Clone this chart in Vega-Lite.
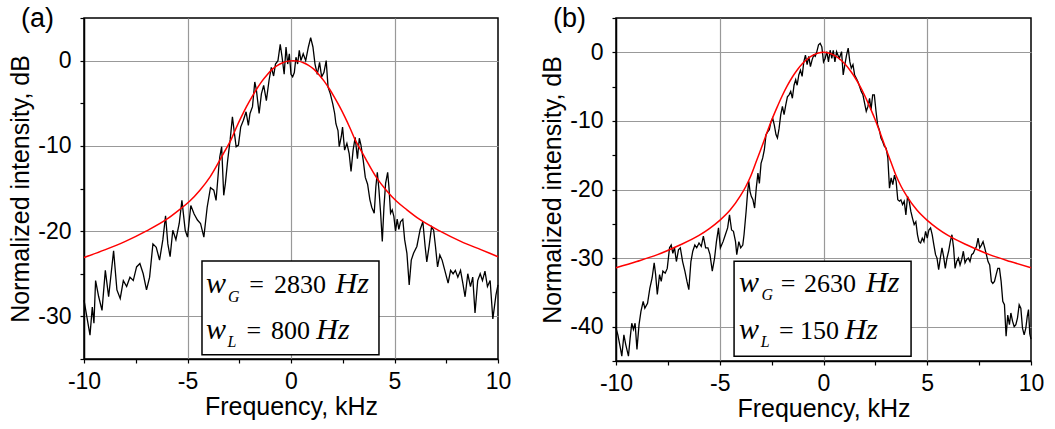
{
  "$schema": "https://vega.github.io/schema/vega-lite/v6.json",
  "background": "white",
  "padding": {"left": 8, "top": 4, "right": 5, "bottom": 5},
  "bounds": "flush",
  "spacing": 118,
  "config": {
    "view": {"stroke": "black", "strokeWidth": 1.5},
    "axis": {
      "domainColor": "black", "domainWidth": 1.5,
      "tickColor": "black", "tickWidth": 1.2, "tickSize": 4,
      "labelFont": "Liberation Sans", "labelFontSize": 23, "labelColor": "black",
      "titleFont": "Liberation Sans", "titleFontSize": 25, "titleFontWeight": "normal", "titleColor": "black",
      "gridColor": "#999999", "gridWidth": 1.2,
      "labelFlush": false, "labelOverlap": false
    },
    "axisX": {"labelPadding": 7, "titlePadding": 1},
    "axisY": {"labelPadding": 9, "titlePadding": 4}
  },
  "datasets": {
    "a_sig": [
      {"f":-10,"v":-28.1},{"f":-9.71,"v":-32.2},{"f":-9.6,"v":-28.9},{"f":-9.52,"v":-30.8},{"f":-9.44,"v":-25.8},{"f":-9.29,"v":-27.7},{"f":-9.13,"v":-29.3},{"f":-8.97,"v":-24.6},{"f":-8.81,"v":-27.7},{"f":-8.57,"v":-22.3},{"f":-8.41,"v":-26.9},{"f":-8.25,"v":-27.9},{"f":-8.1,"v":-25.8},{"f":-7.94,"v":-26.5},{"f":-7.78,"v":-25.4},{"f":-7.62,"v":-25.8},{"f":-7.46,"v":-24.2},{"f":-7.3,"v":-23.8},{"f":-7.14,"v":-25.0},{"f":-6.98,"v":-26.9},{"f":-6.83,"v":-25.4},{"f":-6.67,"v":-21.5},{"f":-6.51,"v":-21.9},{"f":-6.35,"v":-23.4},{"f":-6.19,"v":-21.0},{"f":-6.06,"v":-18.2},{"f":-5.95,"v":-21.5},{"f":-5.84,"v":-23.0},{"f":-5.71,"v":-19.9},{"f":-5.56,"v":-21.0},{"f":-5.4,"v":-19.1},{"f":-5.27,"v":-16.4},{"f":-5.11,"v":-19.9},{"f":-5.0,"v":-20.7},{"f":-4.84,"v":-17.0},{"f":-4.68,"v":-18.0},{"f":-4.52,"v":-18.7},{"f":-4.37,"v":-19.1},{"f":-4.21,"v":-20.7},{"f":-4.05,"v":-17.2},{"f":-3.89,"v":-14.9},{"f":-3.73,"v":-15.2},{"f":-3.62,"v":-16.4},{"f":-3.49,"v":-12.5},{"f":-3.44,"v":-11.3},{"f":-3.35,"v":-10.1},{"f":-3.25,"v":-15.8},{"f":-3.17,"v":-14.4},{"f":-3.06,"v":-11.7},{"f":-2.94,"v":-9.3},{"f":-2.83,"v":-6.6},{"f":-2.75,"v":-8.2},{"f":-2.65,"v":-10.1},{"f":-2.54,"v":-9.9},{"f":-2.43,"v":-7.8},{"f":-2.3,"v":-7.0},{"f":-2.17,"v":-6.0},{"f":-2.06,"v":-7.6},{"f":-1.98,"v":-6.2},{"f":-1.86,"v":-5.4},{"f":-1.75,"v":-2.5},{"f":-1.67,"v":-3.5},{"f":-1.54,"v":-6.2},{"f":-1.43,"v":-3.9},{"f":-1.32,"v":-2.9},{"f":-1.19,"v":-4.7},{"f":-1.06,"v":-2.3},{"f":-0.95,"v":-0.8},{"f":-0.84,"v":-1.8},{"f":-0.75,"v":-0.4},{"f":-0.63,"v":0.0},{"f":-0.52,"v":1.9},{"f":-0.43,"v":0.4},{"f":-0.33,"v":-1.6},{"f":-0.24,"v":1.6},{"f":-0.16,"v":-0.4},{"f":-0.08,"v":0.8},{"f":0,"v":-1.6},{"f":0.08,"v":-1.9},{"f":0.16,"v":-1.4},{"f":0.24,"v":0.4},{"f":0.32,"v":-0.4},{"f":0.4,"v":1.2},{"f":0.48,"v":0.0},{"f":0.59,"v":0.8},{"f":0.71,"v":0.0},{"f":0.84,"v":1.6},{"f":0.95,"v":2.7},{"f":1.06,"v":1.6},{"f":1.16,"v":-0.4},{"f":1.27,"v":-1.6},{"f":1.38,"v":-0.2},{"f":1.48,"v":-1.9},{"f":1.59,"v":-1.4},{"f":1.7,"v":0.0},{"f":1.79,"v":-3.1},{"f":1.9,"v":-3.9},{"f":2.02,"v":-5.1},{"f":2.11,"v":-6.2},{"f":2.17,"v":-7.4},{"f":2.27,"v":-8.2},{"f":2.33,"v":-10.1},{"f":2.43,"v":-8.9},{"f":2.49,"v":-7.8},{"f":2.59,"v":-10.5},{"f":2.7,"v":-9.7},{"f":2.81,"v":-10.9},{"f":2.9,"v":-13.0},{"f":3.0,"v":-10.5},{"f":3.1,"v":-9.0},{"f":3.21,"v":-11.5},{"f":3.3,"v":-9.1},{"f":3.38,"v":-9.9},{"f":3.49,"v":-11.7},{"f":3.59,"v":-13.7},{"f":3.7,"v":-14.5},{"f":3.81,"v":-16.3},{"f":3.9,"v":-17.2},{"f":4.02,"v":-17.9},{"f":4.1,"v":-14.8},{"f":4.17,"v":-13.1},{"f":4.25,"v":-15.2},{"f":4.33,"v":-17.9},{"f":4.41,"v":-21.2},{"f":4.49,"v":-17.2},{"f":4.57,"v":-14.4},{"f":4.67,"v":-13.1},{"f":4.73,"v":-14.8},{"f":4.81,"v":-17.9},{"f":4.89,"v":-17.5},{"f":4.97,"v":-18.3},{"f":5.05,"v":-20.0},{"f":5.13,"v":-18.6},{"f":5.21,"v":-19.8},{"f":5.29,"v":-18.9},{"f":5.4,"v":-18.6},{"f":5.49,"v":-21.0},{"f":5.6,"v":-22.6},{"f":5.71,"v":-26.3},{"f":5.81,"v":-23.4},{"f":5.92,"v":-22.6},{"f":6.08,"v":-21.8},{"f":6.24,"v":-19.8},{"f":6.37,"v":-18.9},{"f":6.48,"v":-21.8},{"f":6.56,"v":-23.6},{"f":6.67,"v":-21.8},{"f":6.79,"v":-19.5},{"f":6.89,"v":-19.9},{"f":6.98,"v":-21.8},{"f":7.08,"v":-24.2},{"f":7.19,"v":-22.8},{"f":7.3,"v":-23.4},{"f":7.43,"v":-24.6},{"f":7.59,"v":-26.1},{"f":7.71,"v":-24.6},{"f":7.83,"v":-25.0},{"f":7.94,"v":-24.6},{"f":8.06,"v":-25.4},{"f":8.19,"v":-24.6},{"f":8.3,"v":-26.1},{"f":8.41,"v":-27.7},{"f":8.54,"v":-25.0},{"f":8.67,"v":-26.5},{"f":8.78,"v":-25.4},{"f":8.89,"v":-29.6},{"f":9.02,"v":-25.8},{"f":9.14,"v":-25.0},{"f":9.25,"v":-25.8},{"f":9.37,"v":-24.7},{"f":9.49,"v":-26.5},{"f":9.62,"v":-25.8},{"f":9.75,"v":-30.3},{"f":9.82,"v":-29.0},{"f":9.9,"v":-27.5},{"f":10,"v":-26.3}
    ],
    "a_fit": [
      {"f":-10,"v":-23.1},{"f":-9,"v":-22.2},{"f":-8,"v":-21.2},{"f":-7,"v":-20.0},{"f":-6,"v":-18.6},{"f":-5.4,"v":-17.5},{"f":-4.9,"v":-16.5},{"f":-4.4,"v":-15.2},{"f":-3.9,"v":-13.6},{"f":-3.4,"v":-11.5},{"f":-3.15,"v":-10.4},{"f":-2.9,"v":-9.3},{"f":-2.65,"v":-7.9},{"f":-2.4,"v":-6.6},{"f":-2.15,"v":-5.4},{"f":-1.9,"v":-4.3},{"f":-1.65,"v":-3.3},{"f":-1.4,"v":-2.4},{"f":-1.15,"v":-1.65},{"f":-0.9,"v":-1.0},{"f":-0.65,"v":-0.55},{"f":-0.4,"v":-0.25},{"f":-0.15,"v":-0.06},{"f":0.1,"v":0},{"f":0.35,"v":-0.06},{"f":0.6,"v":-0.25},{"f":0.85,"v":-0.55},{"f":1.1,"v":-1.0},{"f":1.35,"v":-1.65},{"f":1.6,"v":-2.4},{"f":1.85,"v":-3.3},{"f":2.1,"v":-4.3},{"f":2.35,"v":-5.4},{"f":2.6,"v":-6.6},{"f":2.85,"v":-7.9},{"f":3.1,"v":-9.3},{"f":3.35,"v":-10.4},{"f":3.6,"v":-11.5},{"f":4.1,"v":-13.6},{"f":4.6,"v":-15.2},{"f":5.1,"v":-16.5},{"f":5.6,"v":-17.5},{"f":6.2,"v":-18.6},{"f":7.2,"v":-20.0},{"f":8.2,"v":-21.2},{"f":9.2,"v":-22.2},{"f":10,"v":-23.0}
    ],
    "a_box": [{"f": -4.30, "f2": 4.25, "v": -23.5, "v2": -34.5}],
    "a_lab": [{"f": -13.04, "v": 3.94, "t": "(a)"}],
    "a_txt": [
      {"f":-4.11,"v":-27.25,"t":"w","k":"symbol"},
      {"f":-3.04,"v":-28.29,"t":"G","k":"index"},
      {"f":-2.02,"v":-27.25,"t":"=","k":"value"},
      {"f":-0.82,"v":-27.25,"t":"2830","k":"value"},
      {"f":2.15,"v":-27.25,"t":"Hz","k":"symbol"},
      {"f":-4.11,"v":-32.7,"t":"w","k":"symbol"},
      {"f":-3.07,"v":-33.56,"t":"L","k":"index"},
      {"f":-2.15,"v":-32.7,"t":"=","k":"value"},
      {"f":-0.97,"v":-32.7,"t":"800","k":"value"},
      {"f":1.22,"v":-32.7,"t":"Hz","k":"symbol"}
    ],
    "b_sig": [
      {"f":-10,"v":-40.2},{"f":-9.91,"v":-41.2},{"f":-9.79,"v":-43.1},{"f":-9.72,"v":-44.3},{"f":-9.62,"v":-41.2},{"f":-9.53,"v":-42.6},{"f":-9.4,"v":-44.3},{"f":-9.32,"v":-41.7},{"f":-9.24,"v":-39.5},{"f":-9.16,"v":-40.4},{"f":-9.08,"v":-39.5},{"f":-8.99,"v":-43.3},{"f":-8.89,"v":-39.7},{"f":-8.8,"v":-37.8},{"f":-8.69,"v":-36.3},{"f":-8.61,"v":-37.3},{"f":-8.48,"v":-36.6},{"f":-8.37,"v":-34.4},{"f":-8.26,"v":-32.9},{"f":-8.16,"v":-30.7},{"f":-8.09,"v":-32.4},{"f":-8.01,"v":-35.3},{"f":-7.9,"v":-32.4},{"f":-7.82,"v":-33.4},{"f":-7.74,"v":-31.9},{"f":-7.63,"v":-32.2},{"f":-7.53,"v":-31.5},{"f":-7.42,"v":-28.5},{"f":-7.34,"v":-28.1},{"f":-7.26,"v":-29.3},{"f":-7.18,"v":-28.5},{"f":-7.09,"v":-30.5},{"f":-6.99,"v":-28.8},{"f":-6.9,"v":-28.5},{"f":-6.79,"v":-30.5},{"f":-6.68,"v":-31.9},{"f":-6.58,"v":-33.4},{"f":-6.49,"v":-34.6},{"f":-6.39,"v":-30.5},{"f":-6.3,"v":-29.0},{"f":-6.2,"v":-28.1},{"f":-6.11,"v":-28.5},{"f":-6.0,"v":-27.8},{"f":-5.89,"v":-28.3},{"f":-5.79,"v":-26.8},{"f":-5.68,"v":-28.5},{"f":-5.57,"v":-28.5},{"f":-5.47,"v":-29.5},{"f":-5.36,"v":-31.9},{"f":-5.25,"v":-30.0},{"f":-5.16,"v":-27.6},{"f":-5.06,"v":-25.6},{"f":-4.97,"v":-28.5},{"f":-4.84,"v":-27.6},{"f":-4.73,"v":-26.6},{"f":-4.62,"v":-25.6},{"f":-4.53,"v":-23.7},{"f":-4.43,"v":-25.9},{"f":-4.34,"v":-26.1},{"f":-4.24,"v":-27.6},{"f":-4.18,"v":-29.5},{"f":-4.08,"v":-27.6},{"f":-3.99,"v":-28.5},{"f":-3.89,"v":-28.1},{"f":-3.83,"v":-26.6},{"f":-3.73,"v":-23.2},{"f":-3.66,"v":-20.5},{"f":-3.6,"v":-18.8},{"f":-3.54,"v":-20.3},{"f":-3.48,"v":-21.0},{"f":-3.4,"v":-21.5},{"f":-3.32,"v":-22.7},{"f":-3.24,"v":-19.8},{"f":-3.16,"v":-17.6},{"f":-3.09,"v":-19.1},{"f":-3.01,"v":-16.2},{"f":-2.93,"v":-15.4},{"f":-2.85,"v":-14.2},{"f":-2.77,"v":-12.0},{"f":-2.69,"v":-11.6},{"f":-2.61,"v":-11.3},{"f":-2.53,"v":-10.1},{"f":-2.45,"v":-9.6},{"f":-2.37,"v":-10.6},{"f":-2.29,"v":-12.0},{"f":-2.22,"v":-12.5},{"f":-2.14,"v":-11.1},{"f":-2.06,"v":-9.1},{"f":-1.98,"v":-7.9},{"f":-1.9,"v":-9.1},{"f":-1.82,"v":-7.7},{"f":-1.74,"v":-6.5},{"f":-1.66,"v":-6.2},{"f":-1.58,"v":-5.7},{"f":-1.5,"v":-6.7},{"f":-1.42,"v":-4.8},{"f":-1.34,"v":-4.0},{"f":-1.27,"v":-4.8},{"f":-1.19,"v":-3.3},{"f":-1.11,"v":-2.6},{"f":-1.03,"v":-3.5},{"f":-0.95,"v":-1.4},{"f":-0.87,"v":-0.4},{"f":-0.79,"v":-1.8},{"f":-0.71,"v":-0.6},{"f":-0.63,"v":-2.1},{"f":-0.55,"v":-1.1},{"f":-0.47,"v":-0.4},{"f":-0.4,"v":-0.6},{"f":-0.32,"v":0.1},{"f":-0.24,"v":1.1},{"f":-0.16,"v":1.3},{"f":-0.08,"v":0.8},{"f":0,"v":-1.4},{"f":0.08,"v":-0.9},{"f":0.16,"v":0.1},{"f":0.24,"v":-1.4},{"f":0.32,"v":0.3},{"f":0.4,"v":-0.9},{"f":0.47,"v":0.3},{"f":0.55,"v":-1.4},{"f":0.63,"v":0.1},{"f":0.76,"v":-0.9},{"f":0.87,"v":0.1},{"f":0.95,"v":-3.3},{"f":1.03,"v":-1.8},{"f":1.11,"v":-0.4},{"f":1.19,"v":0.6},{"f":1.27,"v":-1.4},{"f":1.34,"v":-2.3},{"f":1.42,"v":-1.8},{"f":1.5,"v":-3.3},{"f":1.58,"v":-3.8},{"f":1.66,"v":-4.3},{"f":1.74,"v":-5.0},{"f":1.82,"v":-5.7},{"f":1.9,"v":-6.2},{"f":1.98,"v":-7.4},{"f":2.06,"v":-8.6},{"f":2.14,"v":-7.9},{"f":2.22,"v":-6.7},{"f":2.29,"v":-8.4},{"f":2.37,"v":-6.2},{"f":2.45,"v":-6.2},{"f":2.53,"v":-8.6},{"f":2.61,"v":-10.6},{"f":2.69,"v":-11.3},{"f":2.77,"v":-12.5},{"f":2.85,"v":-13.0},{"f":2.93,"v":-13.7},{"f":3.02,"v":-14.0},{"f":3.1,"v":-15.4},{"f":3.18,"v":-19.8},{"f":3.26,"v":-18.3},{"f":3.34,"v":-19.3},{"f":3.42,"v":-17.9},{"f":3.5,"v":-18.8},{"f":3.58,"v":-21.5},{"f":3.66,"v":-21.7},{"f":3.73,"v":-21.5},{"f":3.81,"v":-22.2},{"f":3.89,"v":-21.7},{"f":3.97,"v":-23.7},{"f":4.05,"v":-21.0},{"f":4.13,"v":-21.7},{"f":4.21,"v":-23.2},{"f":4.29,"v":-24.2},{"f":4.37,"v":-25.1},{"f":4.45,"v":-24.7},{"f":4.53,"v":-26.6},{"f":4.6,"v":-27.6},{"f":4.68,"v":-27.8},{"f":4.76,"v":-27.1},{"f":4.84,"v":-27.6},{"f":4.92,"v":-26.1},{"f":5.0,"v":-27.1},{"f":5.08,"v":-25.9},{"f":5.16,"v":-25.6},{"f":5.24,"v":-26.6},{"f":5.32,"v":-28.1},{"f":5.4,"v":-29.5},{"f":5.47,"v":-30.0},{"f":5.55,"v":-31.7},{"f":5.63,"v":-30.0},{"f":5.71,"v":-28.5},{"f":5.79,"v":-29.8},{"f":5.87,"v":-31.5},{"f":5.95,"v":-30.0},{"f":6.03,"v":-29.0},{"f":6.11,"v":-27.6},{"f":6.19,"v":-26.6},{"f":6.27,"v":-28.5},{"f":6.34,"v":-31.5},{"f":6.42,"v":-30.5},{"f":6.5,"v":-30.0},{"f":6.58,"v":-31.0},{"f":6.66,"v":-30.2},{"f":6.74,"v":-29.0},{"f":6.82,"v":-30.7},{"f":6.9,"v":-30.2},{"f":6.98,"v":-30.0},{"f":7.06,"v":-30.5},{"f":7.14,"v":-29.5},{"f":7.22,"v":-29.3},{"f":7.29,"v":-28.8},{"f":7.37,"v":-28.3},{"f":7.45,"v":-27.1},{"f":7.53,"v":-28.5},{"f":7.61,"v":-28.1},{"f":7.69,"v":-27.6},{"f":7.77,"v":-28.5},{"f":7.85,"v":-29.5},{"f":7.93,"v":-30.5},{"f":8.01,"v":-31.0},{"f":8.09,"v":-33.4},{"f":8.16,"v":-33.7},{"f":8.24,"v":-33.4},{"f":8.32,"v":-32.4},{"f":8.4,"v":-31.5},{"f":8.48,"v":-31.5},{"f":8.56,"v":-33.4},{"f":8.64,"v":-36.3},{"f":8.72,"v":-36.8},{"f":8.8,"v":-41.4},{"f":8.88,"v":-38.3},{"f":8.96,"v":-39.7},{"f":9.03,"v":-38.0},{"f":9.11,"v":-39.2},{"f":9.19,"v":-40.0},{"f":9.27,"v":-39.7},{"f":9.35,"v":-38.7},{"f":9.43,"v":-36.8},{"f":9.51,"v":-37.3},{"f":9.59,"v":-40.2},{"f":9.67,"v":-41.2},{"f":9.75,"v":-40.2},{"f":9.82,"v":-38.5},{"f":9.88,"v":-37.5},{"f":9.94,"v":-41.0},{"f":10,"v":-41.8}
    ],
    "b_fit": [
      {"f":-10,"v":-31.4},{"f":-9,"v":-30.5},{"f":-8,"v":-29.5},{"f":-7,"v":-28.2},{"f":-6,"v":-26.7},{"f":-5.5,"v":-25.7},{"f":-5,"v":-24.5},{"f":-4.5,"v":-23.0},{"f":-4,"v":-20.9},{"f":-3.75,"v":-19.6},{"f":-3.5,"v":-18.0},{"f":-3.25,"v":-16.0},{"f":-3,"v":-14.0},{"f":-2.75,"v":-11.9},{"f":-2.5,"v":-9.9},{"f":-2.25,"v":-8.1},{"f":-2,"v":-6.4},{"f":-1.75,"v":-4.9},{"f":-1.5,"v":-3.6},{"f":-1.25,"v":-2.5},{"f":-1,"v":-1.6},{"f":-0.75,"v":-0.9},{"f":-0.5,"v":-0.4},{"f":-0.25,"v":-0.1},{"f":0,"v":0},{"f":0.25,"v":-0.1},{"f":0.5,"v":-0.4},{"f":0.75,"v":-0.9},{"f":1,"v":-1.6},{"f":1.25,"v":-2.5},{"f":1.5,"v":-3.6},{"f":1.75,"v":-4.9},{"f":2,"v":-6.4},{"f":2.25,"v":-8.1},{"f":2.5,"v":-9.9},{"f":2.75,"v":-11.9},{"f":3,"v":-14.0},{"f":3.25,"v":-16.0},{"f":3.5,"v":-18.0},{"f":3.75,"v":-19.6},{"f":4,"v":-20.9},{"f":4.5,"v":-23.0},{"f":5,"v":-24.5},{"f":5.5,"v":-25.7},{"f":6,"v":-26.7},{"f":7,"v":-28.2},{"f":8,"v":-29.5},{"f":9,"v":-30.5},{"f":10,"v":-31.4}
    ],
    "b_box": [{"f": -4.31, "f2": 4.22, "v": -30.46, "v2": -44.32}],
    "b_lab": [{"f": -13.04, "v": 3.69, "t": "(b)"}],
    "b_txt": [
      {"f":-4.07,"v":-35.0,"t":"w","k":"symbol"},
      {"f":-2.99,"v":-36.12,"t":"G","k":"index"},
      {"f":-2.06,"v":-35.0,"t":"=","k":"value"},
      {"f":-0.94,"v":-35.0,"t":"2630","k":"value"},
      {"f":2.05,"v":-35.0,"t":"Hz","k":"symbol"},
      {"f":-4.07,"v":-41.83,"t":"w","k":"symbol"},
      {"f":-3.02,"v":-42.95,"t":"L","k":"index"},
      {"f":-2.14,"v":-41.83,"t":"=","k":"value"},
      {"f":-1.13,"v":-41.83,"t":"150","k":"value"},
      {"f":1.02,"v":-41.83,"t":"Hz","k":"symbol"}
    ]
  },
  "hconcat": [
    {
      "width": 414, "height": 341,
      "layer": [
        {
          "data": {"name": "a_sig"},
          "mark": {"type": "line", "color": "black", "strokeWidth": 1.3},
          "encoding": {
            "x": {"field": "f", "type": "quantitative", "scale": {"domain": [-10, 10], "nice": false, "zero": false},
                  "axis": {"title": "Frequency, kHz", "values": [-10,-7.5,-5,-2.5,0,2.5,5,7.5,10], "tickCount": 50,
                           "labelExpr": "datum.value % 5 === 0 ? '' + datum.value : ''",
                           "gridOpacity": {"condition": {"test": "datum.value % 5 !== 0 || abs(datum.value) === 10", "value": 0}, "value": 1}}},
            "y": {"field": "v", "type": "quantitative", "scale": {"domain": [-35, 5], "nice": false, "zero": false},
                  "axis": {"title": "Normalized intensity, dB", "values": [-35,-30,-25,-20,-15,-10,-5,0,5], "tickCount": 50,
                           "labelExpr": "datum.value % 10 === 0 ? '' + datum.value : ''",
                           "gridOpacity": {"condition": {"test": "datum.value % 10 !== 0", "value": 0}, "value": 1}}}
          }
        },
        {
          "data": {"name": "a_fit"},
          "mark": {"type": "line", "color": "#ff0000", "strokeWidth": 1.5, "interpolate": "monotone"},
          "encoding": {"x": {"field": "f", "type": "quantitative"}, "y": {"field": "v", "type": "quantitative"}}
        },
        {
          "data": {"name": "a_box"},
          "mark": {"type": "rect", "fill": "white", "stroke": "black", "strokeWidth": 1.5},
          "encoding": {"x": {"field": "f", "type": "quantitative"}, "x2": {"field": "f2"}, "y": {"field": "v", "type": "quantitative"}, "y2": {"field": "v2"}}
        },
        {
          "data": {"name": "a_lab"},
          "mark": {"type": "text", "font": "Liberation Sans", "fontSize": 27, "align": "left", "baseline": "alphabetic", "color": "black"},
          "encoding": {"x": {"field": "f", "type": "quantitative"}, "y": {"field": "v", "type": "quantitative"}, "text": {"field": "t"}}
        },
        {
          "data": {"name": "a_txt"},
          "transform": [{"filter": "datum.k === 'symbol'"}],
          "mark": {"type": "text", "font": "Liberation Serif", "fontStyle": "italic", "fontSize": 30, "align": "left", "baseline": "alphabetic", "color": "black"},
          "encoding": {"x": {"field": "f", "type": "quantitative"}, "y": {"field": "v", "type": "quantitative"}, "text": {"field": "t"}}
        },
        {
          "data": {"name": "a_txt"},
          "transform": [{"filter": "datum.k === 'index'"}],
          "mark": {"type": "text", "font": "Liberation Serif", "fontStyle": "italic", "fontSize": 16, "align": "left", "baseline": "alphabetic", "color": "black"},
          "encoding": {"x": {"field": "f", "type": "quantitative"}, "y": {"field": "v", "type": "quantitative"}, "text": {"field": "t"}}
        },
        {
          "data": {"name": "a_txt"},
          "transform": [{"filter": "datum.k === 'value'"}],
          "mark": {"type": "text", "font": "Liberation Serif", "fontSize": 26, "align": "left", "baseline": "alphabetic", "color": "black"},
          "encoding": {"x": {"field": "f", "type": "quantitative"}, "y": {"field": "v", "type": "quantitative"}, "text": {"field": "t"}}
        }
      ]
    },
    {
      "width": 415, "height": 343,
      "layer": [
        {
          "data": {"name": "b_sig"},
          "mark": {"type": "line", "color": "black", "strokeWidth": 1.3},
          "encoding": {
            "x": {"field": "f", "type": "quantitative", "scale": {"domain": [-10, 10], "nice": false, "zero": false},
                  "axis": {"title": "Frequency, kHz", "values": [-10,-7.5,-5,-2.5,0,2.5,5,7.5,10], "tickCount": 50,
                           "labelExpr": "datum.value % 5 === 0 ? '' + datum.value : ''",
                           "gridOpacity": {"condition": {"test": "datum.value % 5 !== 0 || abs(datum.value) === 10", "value": 0}, "value": 1}}},
            "y": {"field": "v", "type": "quantitative", "scale": {"domain": [-45, 5], "nice": false, "zero": false},
                  "axis": {"title": "Normalized intensity, dB", "values": [-45,-40,-35,-30,-25,-20,-15,-10,-5,0,5], "tickCount": 50,
                           "labelExpr": "datum.value % 10 === 0 ? '' + datum.value : ''",
                           "gridOpacity": {"condition": {"test": "datum.value % 10 !== 0", "value": 0}, "value": 1}}}
          }
        },
        {
          "data": {"name": "b_fit"},
          "mark": {"type": "line", "color": "#ff0000", "strokeWidth": 1.5, "interpolate": "monotone"},
          "encoding": {"x": {"field": "f", "type": "quantitative"}, "y": {"field": "v", "type": "quantitative"}}
        },
        {
          "data": {"name": "b_box"},
          "mark": {"type": "rect", "fill": "white", "stroke": "black", "strokeWidth": 1.5},
          "encoding": {"x": {"field": "f", "type": "quantitative"}, "x2": {"field": "f2"}, "y": {"field": "v", "type": "quantitative"}, "y2": {"field": "v2"}}
        },
        {
          "data": {"name": "b_lab"},
          "mark": {"type": "text", "font": "Liberation Sans", "fontSize": 27, "align": "left", "baseline": "alphabetic", "color": "black"},
          "encoding": {"x": {"field": "f", "type": "quantitative"}, "y": {"field": "v", "type": "quantitative"}, "text": {"field": "t"}}
        },
        {
          "data": {"name": "b_txt"},
          "transform": [{"filter": "datum.k === 'symbol'"}],
          "mark": {"type": "text", "font": "Liberation Serif", "fontStyle": "italic", "fontSize": 30, "align": "left", "baseline": "alphabetic", "color": "black"},
          "encoding": {"x": {"field": "f", "type": "quantitative"}, "y": {"field": "v", "type": "quantitative"}, "text": {"field": "t"}}
        },
        {
          "data": {"name": "b_txt"},
          "transform": [{"filter": "datum.k === 'index'"}],
          "mark": {"type": "text", "font": "Liberation Serif", "fontStyle": "italic", "fontSize": 16, "align": "left", "baseline": "alphabetic", "color": "black"},
          "encoding": {"x": {"field": "f", "type": "quantitative"}, "y": {"field": "v", "type": "quantitative"}, "text": {"field": "t"}}
        },
        {
          "data": {"name": "b_txt"},
          "transform": [{"filter": "datum.k === 'value'"}],
          "mark": {"type": "text", "font": "Liberation Serif", "fontSize": 26, "align": "left", "baseline": "alphabetic", "color": "black"},
          "encoding": {"x": {"field": "f", "type": "quantitative"}, "y": {"field": "v", "type": "quantitative"}, "text": {"field": "t"}}
        }
      ]
    }
  ]
}
